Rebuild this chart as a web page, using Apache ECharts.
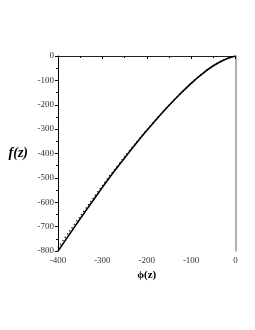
<!DOCTYPE html>
<html><head><meta charset="utf-8">
<script src="https://cdn.jsdelivr.net/npm/echarts@6/dist/echarts.min.js"></script>
<style>html,body{margin:0;padding:0;background:#fff}#c{width:255px;height:330px}</style>
</head><body><div id="c"></div>
<script>
const phi = [-400,-375,-350,-325,-300,-275,-250,-225,-200,-175,-150,-125,-100,-75,-50,-25,0];
const fSolid = [-800,-734,-668,-603,-539,-477,-418,-361,-306,-253,-203,-156,-112,-73,-40,-15,0];
const fDotted = [-786,-722,-658,-595,-532,-472,-414,-358,-304,-252,-202,-156,-112,-73,-40,-15,0];
const xTicks = [-400,-300,-200,-100,0];
const yTicks = [0,-100,-200,-300,-400,-500,-600,-700,-800];

const chart = echarts.init(document.getElementById('c'), null, {renderer:'canvas'});
const serif = '"Liberation Serif","DejaVu Serif",serif';
const lbl = {fontFamily:serif, fontSize:9, color:'#333'};
chart.setOption({
  animation:false,
  grid:{left:58, right:19.5, top:56, bottom:79},
  xAxis:[{
    type:'value', min:-400, max:0, interval:100, position:'bottom',
    axisLine:{lineStyle:{color:'#000', width:1}},
    axisTick:{show:true, length:3, inside:false, lineStyle:{color:'#000'}},
    minorTick:{show:true, splitNumber:2, length:2, lineStyle:{color:'#000'}},
    splitLine:{show:false},
    axisLabel:Object.assign({margin:5, formatter:v=>xTicks.includes(v)?String(v):''}, lbl),
    name:'ϕ(z)', nameLocation:'middle', nameGap:18,
    nameTextStyle:{fontFamily:serif, fontSize:11, fontWeight:'bold', color:'#000'}
  },{
    type:'value', min:-400, max:0, position:'top',
    axisLine:{show:true, onZero:false, lineStyle:{color:'#222', width:1}},
    axisTick:{show:false}, axisLabel:{show:false}, splitLine:{show:false}
  }],
  yAxis:[{
    type:'value', min:-800, max:0, interval:100, position:'left',
    axisLine:{show:true, onZero:false, lineStyle:{color:'#000', width:1}},
    axisTick:{show:true, length:3, lineStyle:{color:'#000'}},
    minorTick:{show:true, splitNumber:2, length:2, lineStyle:{color:'#000'}},
    splitLine:{show:false},
    axisLabel:Object.assign({margin:4, formatter:v=>yTicks.includes(v)?String(v):''}, lbl),
    name:'f(z)', nameLocation:'middle', nameGap:30, nameRotate:0,
    nameTextStyle:{fontFamily:serif, fontSize:14, fontWeight:'bold', fontStyle:'italic', color:'#000'}
  },{
    type:'value', min:-800, max:0, position:'right',
    axisLine:{show:true, onZero:false, lineStyle:{color:'#999', width:1.5}},
    axisTick:{show:false}, axisLabel:{show:false}, splitLine:{show:false}
  }],
  series:[{
    type:'line', smooth:0.3, symbol:'none', xAxisIndex:0, yAxisIndex:0,
    data: phi.map((x,i)=>[x,fDotted[i]]),
    lineStyle:{color:'#000', width:1.6, type:[1,3]}
  },{
    type:'line', smooth:0.3, symbol:'none', xAxisIndex:0, yAxisIndex:0,
    data: phi.map((x,i)=>[x,fSolid[i]]),
    lineStyle:{color:'#000', width:1.6}
  }]
});
</script></body></html>
